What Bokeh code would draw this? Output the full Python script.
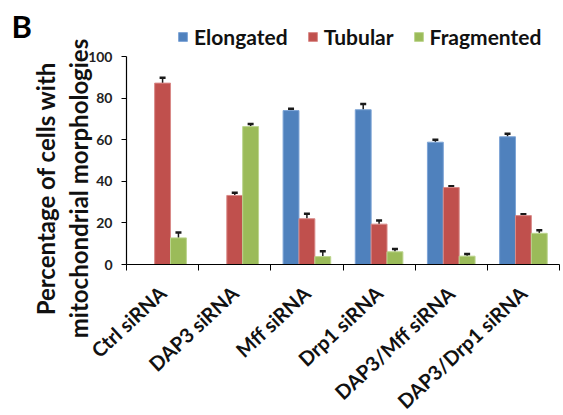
import math
from bokeh.plotting import figure
from bokeh.models import (ColumnDataSource, Range1d, FixedTicker, Whisker, TeeHead,
                          Legend, LegendItem, Label)
from bokeh.embed import file_html
from bokeh.resources import INLINE

categories = ["Ctrl siRNA", "DAP3 siRNA", "Mff siRNA", "Drp1 siRNA",
              "DAP3/Mff siRNA", "DAP3/Drp1 siRNA"]
series_names = ["Elongated", "Tubular", "Fragmented"]
elongated = [0, 0, 74.0, 74.4, 58.8, 61.4]
tubular = [87.2, 33.2, 22.0, 19.4, 37.0, 23.5]
fragmented = [12.8, 66.3, 3.8, 6.1, 4.0, 15.0]
elongated_err = [0, 0, 0.9, 2.8, 1.2, 1.5]
tubular_err = [2.6, 1.3, 2.4, 1.8, 0.6, 0.6]
fragmented_err = [2.6, 1.3, 2.6, 1.4, 1.0, 1.5]
y_ticks = [0, 20, 40, 60, 80, 100]
y_max = 100
y_title = ["Percentage of cells with", "mitochondrial morphologies"]
panel_letter = "B"

colors = ["#4F81BD", "#C0504D", "#9BBB59"]
edges = ["#7DA4D6", "#D98A88", "#BCD58E"]
FONT = "Lato"

# canvas layout (pixels)
W, H = 560, 414
plot_left, plot_right = 126, 559      # x=0 .. x=n categories
plot_top, plot_bottom = 56, 264       # y=100 .. y=0 (from canvas top)
n = len(categories)
xs_per_px = n / (plot_right - plot_left)
ys_per_px = y_max / (plot_bottom - plot_top)
x_range = Range1d(-plot_left * xs_per_px, n + (W - plot_right) * xs_per_px)
y_range = Range1d(-(H - plot_bottom) * ys_per_px, y_max + plot_top * ys_per_px)

p = figure(width=W, height=H, output_backend="svg", toolbar_location=None,
           x_range=x_range, y_range=y_range)
p.min_border_left = 0
p.min_border_right = 0
p.min_border_top = 0
p.min_border_bottom = 0
p.outline_line_color = None
p.xgrid.visible = False
p.ygrid.visible = False
p.background_fill_color = "white"
p.border_fill_color = "white"

bar_w = 0.22
offsets = [-bar_w, 0.0, bar_w]
values = [elongated, tubular, fragmented]
errs = [elongated_err, tubular_err, fragmented_err]
renderers = []
for k in range(3):
    xs = [i + 0.5 + offsets[k] for i in range(n)]
    src = ColumnDataSource(dict(x=xs, top=values[k]))
    r = p.vbar(x="x", top="top", width=bar_w, source=src, fill_color=colors[k],
               line_color=edges[k], line_width=1)
    renderers.append(r)
    ex = [x for x, e in zip(xs, errs[k]) if e > 0]
    lo = [v for v, e in zip(values[k], errs[k]) if e > 0]
    hi = [v + e for v, e in zip(values[k], errs[k]) if e > 0]
    esrc = ColumnDataSource(dict(x=ex, lower=lo, upper=hi))
    w = Whisker(source=esrc, base="x", lower="lower", upper="upper", dimension="height",
                line_color="#1a1a1a", line_width=1.5,
                upper_head=TeeHead(size=6, line_color="#1a1a1a", line_width=2.5),
                lower_head=None)
    p.add_layout(w)

# axes (fixed inside the canvas)
xa = p.xaxis[0]
xa.fixed_location = 0
xa.bounds = (0, n)
xa.ticker = FixedTicker(ticks=[i + 0.5 for i in range(n)],
                        minor_ticks=list(range(n + 1)))
xa.major_label_overrides = {i + 0.5: c for i, c in enumerate(categories)}
xa.major_tick_line_color = None
xa.minor_tick_line_color = "black"
xa.minor_tick_out = 6
xa.minor_tick_in = 0
xa.axis_line_color = "black"
xa.axis_line_width = 1.2
xa.major_label_orientation = math.radians(43)
xa.major_label_text_font = FONT
xa.major_label_text_font_style = "bold"
xa.major_label_text_font_size = "20px"
xa.major_label_text_color = "#111111"
xa.major_label_standoff = 19

ya = p.yaxis[0]
ya.fixed_location = 0
ya.bounds = (0, y_max)
ya.ticker = FixedTicker(ticks=y_ticks)
ya.minor_tick_line_color = None
ya.major_tick_out = 5
ya.major_tick_in = 0
ya.axis_line_color = "black"
ya.axis_line_width = 1.2
ya.major_tick_line_color = "black"
ya.major_label_text_font = FONT
ya.major_label_text_font_style = "bold"
ya.major_label_text_font_size = "14px"
ya.major_label_text_color = "#222222"
ya.major_label_standoff = 9

# legend
items = [LegendItem(label=s, renderers=[r]) for s, r in zip(series_names, renderers)]
legend = Legend(items=items, orientation="horizontal", location=(177, H - 49),
                glyph_width=11, glyph_height=11, label_standoff=6, spacing=19,
                padding=0, margin=0, border_line_color=None, background_fill_alpha=0,
                label_text_font=FONT, label_text_font_style="bold",
                label_text_font_size="21px", label_text_color="#111111")
p.add_layout(legend, "center")

# y axis title (two lines, centred at the same height) and panel letter
title_centre_y = H - 188
p.add_layout(Label(x=45, y=title_centre_y, x_units="screen", y_units="screen",
                   text=y_title[0], angle=math.pi / 2,
                   text_align="center", text_baseline="alphabetic",
                   text_font=FONT, text_font_style="bold", text_font_size="24px",
                   text_color="#111111"))
p.add_layout(Label(x=78, y=title_centre_y, x_units="screen", y_units="screen",
                   text=y_title[1], angle=math.pi / 2,
                   text_align="center", text_baseline="alphabetic",
                   text_font=FONT, text_font_style="bold", text_font_size="24px",
                   text_color="#111111"))
p.add_layout(Label(x=11, y=H - 25, x_units="screen", y_units="screen",
                   text=panel_letter, text_align="left", text_baseline="alphabetic",
                   text_font=FONT, text_font_style="bold", text_font_size="31px",
                   text_color="#000000"))

open("out.html", "w").write(file_html(p, INLINE))
